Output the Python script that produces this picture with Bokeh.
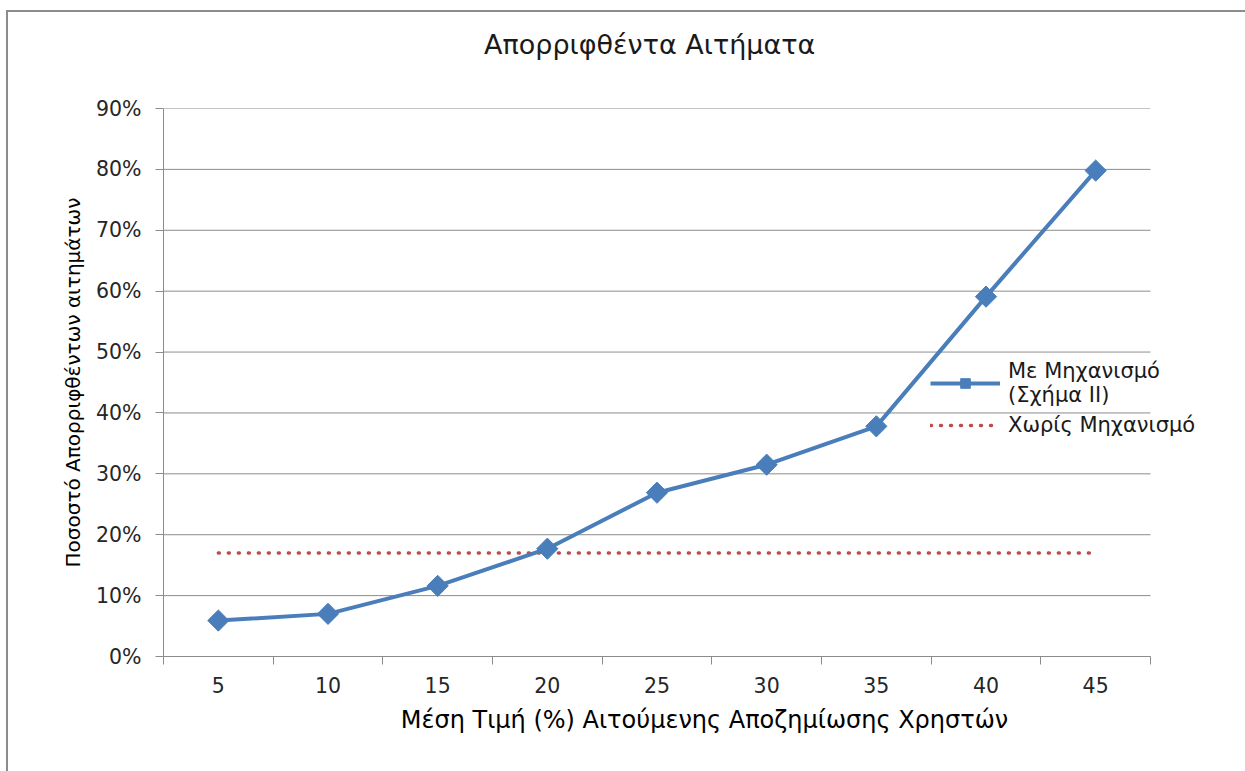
import math
from bokeh.plotting import figure
from bokeh.layouts import column
from bokeh.models import (FixedTicker, NumeralTickFormatter, Legend, LegendItem,
                          Range1d, ColumnDataSource, Div)
from bokeh.embed import file_html
from bokeh.resources import INLINE

# Mean requested compensation (%) per user group
compensation = [5, 10, 15, 20, 25, 30, 35, 40, 45]
# Share of rejected requests with the mechanism (Figure II)
with_mechanism = [0.059, 0.070, 0.116, 0.177, 0.269, 0.315, 0.378, 0.591, 0.798]
# Share of rejected requests without the mechanism (constant level)
without_mechanism = [0.17] * len(compensation)
y_ticks = [0.0, 0.1, 0.2, 0.3, 0.4, 0.5, 0.6, 0.7, 0.8, 0.9]

TITLE = "Απορριφθέντα Αιτήματα"
FONT = "DejaVu Sans"
GRID = "#8c8c8c"
BLUE = "#4a7ebb"
RED = "#be4b48"

# category band edges: each value sits in the middle of a band of width 5
half = 2.5
x_lo = compensation[0] - half
x_hi = compensation[-1] + half
boundaries = [c - half for c in compensation] + [x_hi]

# the plotting area runs on past the last band so the legend can overhang it
W = 1237
TITLE_H = 82
TOP_PAD = 14
H = 759 - TITLE_H
LEFT, RIGHT_PAD = 155, 95
band_px = W - LEFT - RIGHT_PAD
frame_px = W - LEFT
x_end = x_lo + (x_hi - x_lo) * frame_px / band_px

src = ColumnDataSource(dict(x=compensation, y=with_mechanism, y0=without_mechanism))
grid_src = ColumnDataSource(dict(y=y_ticks, x0=[x_lo] * len(y_ticks), x1=[x_hi] * len(y_ticks)))

title_div = Div(
    text=f'<div style="font-family:\'{FONT}\';font-size:27px;line-height:32px;'
         f'color:#1a1a1a;padding:17px 0 0 476px;white-space:nowrap;">{TITLE}</div>',
    width=W, height=TITLE_H, margin=0,
    styles={"background-color": "white"})

p = figure(width=W, height=H, output_backend="svg", toolbar_location=None,
           x_range=Range1d(x_lo, x_end), y_range=Range1d(0, 0.9),
           min_border_left=LEFT, min_border_right=0,
           min_border_top=TOP_PAD, min_border_bottom=115,
           margin=0)
p.outline_line_color = None
p.background_fill_color = "white"
p.border_fill_color = "white"

# y axis with percentage ticks
p.yaxis.ticker = FixedTicker(ticks=y_ticks)
p.yaxis.formatter = NumeralTickFormatter(format="0%")
p.yaxis.axis_label = "Ποσοστό Απορριφθέντων αιτημάτων"
p.yaxis.axis_label_text_font = FONT
p.yaxis.axis_label_text_font_size = "20px"
p.yaxis.axis_label_text_font_style = "normal"
p.yaxis.axis_label_text_color = "#000000"
p.yaxis.axis_label_standoff = 8
p.yaxis.major_label_text_font = FONT
p.yaxis.major_label_text_font_size = "20.5px"
p.yaxis.major_label_text_color = "#262626"
p.yaxis.major_label_standoff = 14
p.yaxis.axis_line_color = GRID
p.yaxis.major_tick_line_color = GRID
p.yaxis.major_tick_in = 0
p.yaxis.major_tick_out = 8
p.yaxis.minor_tick_line_color = None

# x axis: labels at category centres, ticks on the boundaries between them
p.xaxis.ticker = FixedTicker(ticks=compensation, minor_ticks=boundaries)
p.xaxis.bounds = (x_lo, x_hi)
p.xaxis.axis_label = "Μέση Τιμή (%) Αιτούμενης Αποζημίωσης Χρηστών"
p.xaxis.axis_label_text_font = FONT
p.xaxis.axis_label_text_font_size = "24px"
p.xaxis.axis_label_text_font_style = "normal"
p.xaxis.axis_label_text_color = "#000000"
p.xaxis.axis_label_standoff = 10
p.xaxis.major_label_text_font = FONT
p.xaxis.major_label_text_font_size = "20.5px"
p.xaxis.major_label_text_color = "#262626"
p.xaxis.major_label_standoff = 12
p.xaxis.axis_line_color = GRID
p.xaxis.major_tick_line_color = None
p.xaxis.major_tick_in = 0
p.xaxis.major_tick_out = 8
p.xaxis.minor_tick_line_color = GRID
p.xaxis.minor_tick_in = 0
p.xaxis.minor_tick_out = 8

# horizontal gridlines, limited to the category bands
p.xgrid.grid_line_color = None
p.ygrid.grid_line_color = None
p.segment(x0="x0", x1="x1", y0="y", y1="y", source=grid_src,
          line_color=GRID, line_width=1)

# series
r_red = p.line("x", "y0", source=src, line_color=RED, line_width=3.5,
               line_dash="1 9", line_cap="round")
r_line = p.line("x", "y", source=src, line_color=BLUE, line_width=4)
r_pts = p.scatter("x", "y", source=src, marker="square", size=15, angle=math.pi / 4,
                  fill_color=BLUE, line_color=BLUE)

legend = Legend(items=[
    LegendItem(label="Με Μηχανισμό\n(Σχήμα II)", renderers=[r_line, r_pts]),
    LegendItem(label="Χωρίς Μηχανισμό", renderers=[r_red]),
], location=(767, 218), orientation="vertical")
legend.background_fill_alpha = 0
legend.border_line_color = None
legend.label_text_font = FONT
legend.label_text_font_size = "21px"
legend.label_text_color = "#1a1a1a"
legend.glyph_width = 70
legend.glyph_height = 24
legend.label_standoff = 8
legend.spacing = 5
legend.padding = 0
legend.margin = 0
legend.label_height = 26
p.add_layout(legend, "center")

page = column(title_div, p, spacing=0, margin=(10, 0, 0, 6),
              styles={"border-left": "2px solid #8c8c8c",
                      "border-top": "2px solid #8c8c8c",
                      "background-color": "white"})

open("out.html", "w").write(file_html(page, INLINE))
